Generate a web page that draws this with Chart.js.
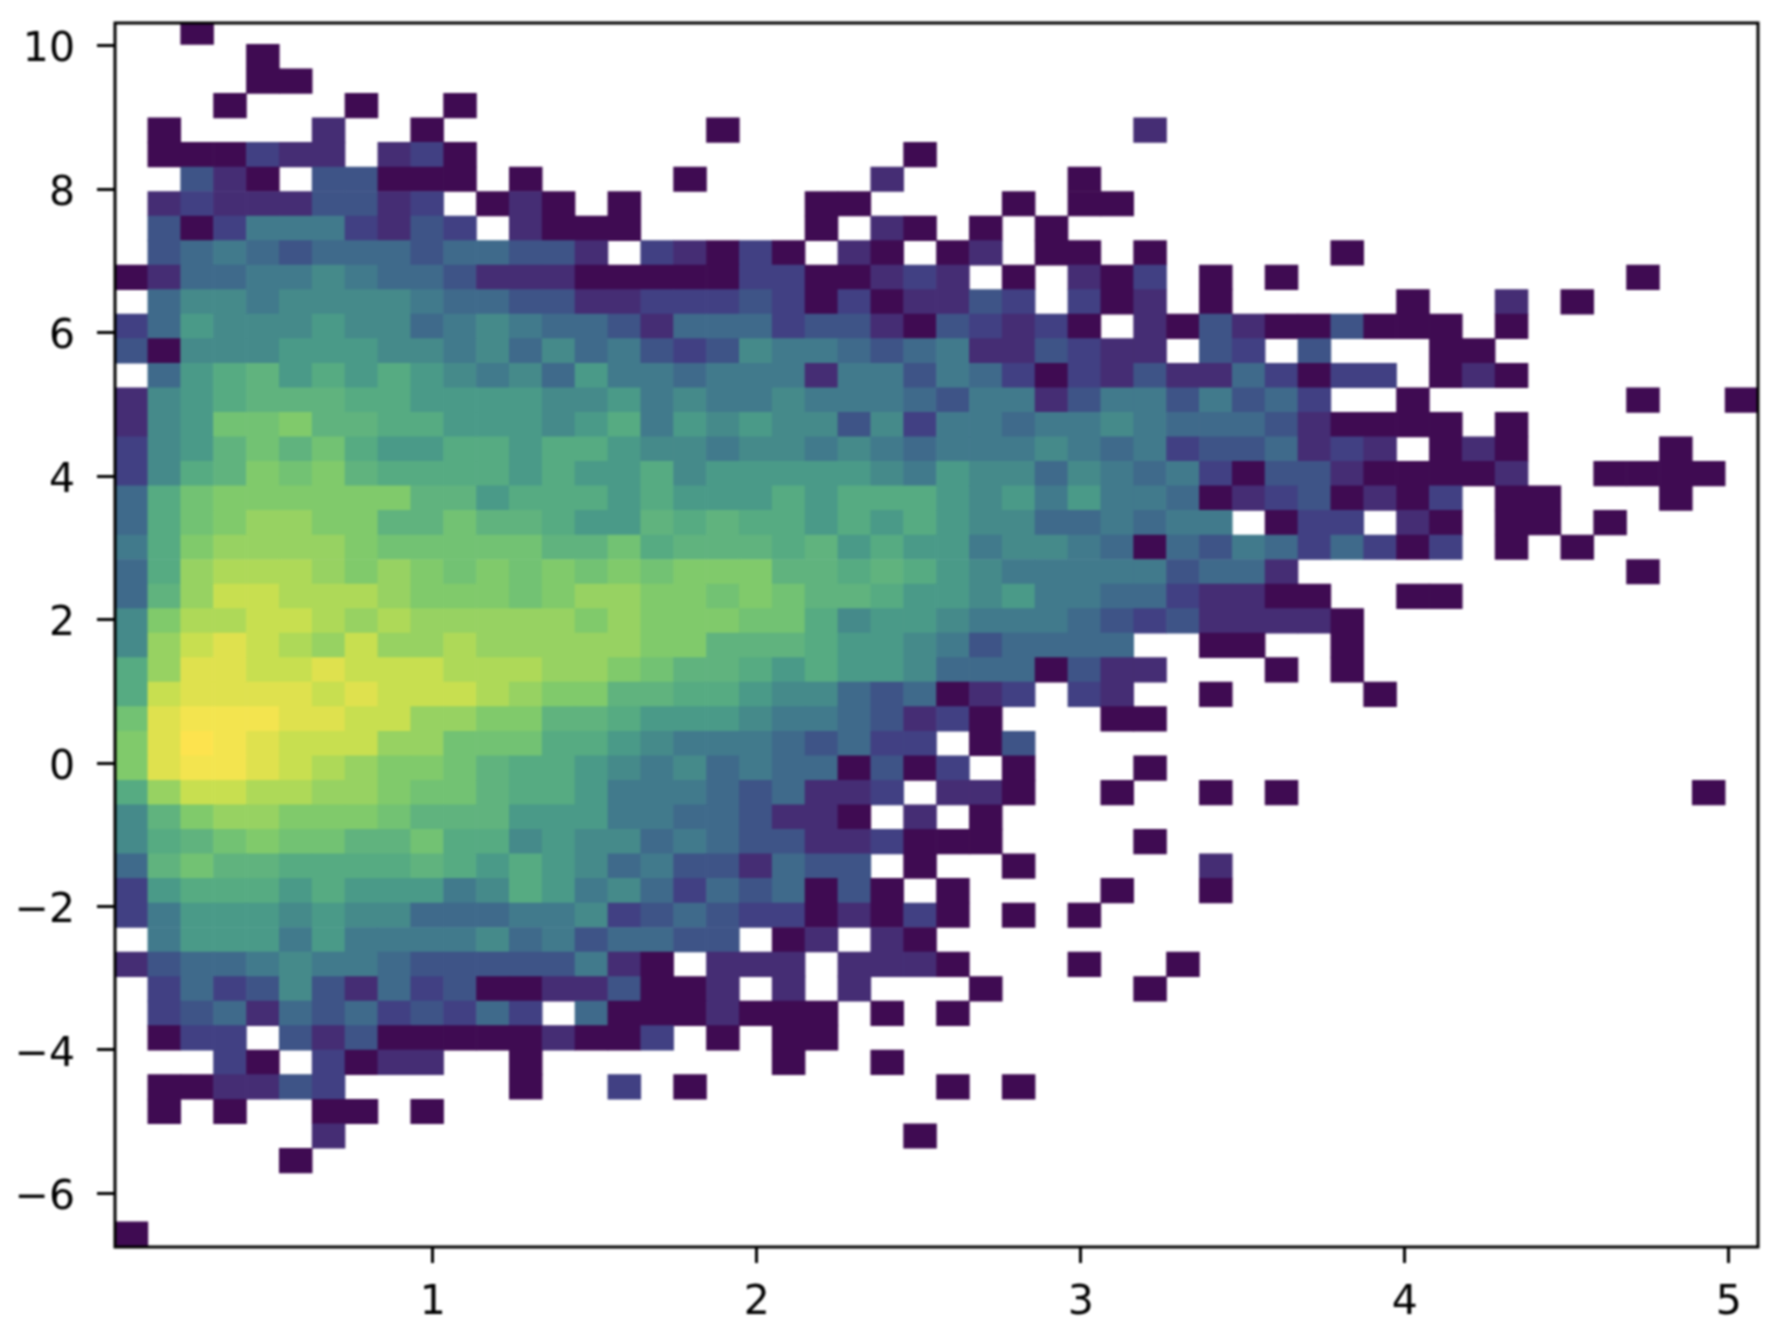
<!DOCTYPE html>
<html>
<head>
<meta charset="utf-8">
<title>hist2d</title>
<script src="https://cdn.jsdelivr.net/npm/chart.js@4/dist/chart.umd.js"></script>
<style>
  html, body { margin: 0; padding: 0; background: #fff; }
  canvas { display: block; filter: blur(0.9px); }
</style>
</head>
<body>
<canvas id="myChart" width="1778" height="1334"></canvas>
<script>
'use strict';

let xTicks = [1, 2, 3, 4, 5];
let yTicks = [-6, -4, -2, 0, 2, 4, 6, 8, 10];

// bin layout of the histogram, in data units
let xStart = 0.0194;
let xStep = 0.10142;
let yTop = 10.361;
let yStep = 0.342;

// one string per row from the top, 50 bins each.
// '.' is an empty bin, 1..9 a..i is the colour level (log of the count)
let rows = [
  '..1....... .......... .......... .......... ..........',
  '....1..... .......... .......... .......... ..........',
  '....11.... .......... .......... .......... ..........',
  '...1...1.. 1......... .......... .......... ..........',
  '.1....2..1 ........1. .......... .2........ ..........',
  '.111322.23 1......... ....1..... .......... ..........',
  '..421.4411 1.1....1.. ...2.....1 .......... ..........',
  '.232224423 .121.1.... .11....1.1 1......... ..........',
  '.413666324 3.2111.... .1.21.1.1. .......... ..........',
  '.456545554 55442.3213 1.21.12.11 .1.....1.. ..........',
  '1255667655 4222111113 311232.1.2 13.1.1.... ......1...',
  '.577677776 5544223334 31312243.3 12.1.....1 ..2.1.....',
  '3587778775 6765542555 3442143231 .214211411 1.1.......',
  '4177788877 6757564347 6654562243 22.43.4... 11........',
  '.589a89898 7675866566 6266465313 242253133. 121.......',
  '2789aaa998 8887786766 7666546624 6646453..1 ......1..1',
  '278bbcaa99 8887896878 7747366566 7655542111 1.1.......',
  '378abab988 9989987767 7676566676 563445232. 121....1..',
  '379acbca99 9989889788 8887687757 6563144211 112..1111.',
  '59bcccccca a899989888 9899987868 6651234121 3.11...1..',
  '59bcddccaa baa988a9a9 9898987755 6566.133.2 1.11.1....',
  '69cddddcbb bbbaab9aaa 9a89886776 5154653531 3.1.1.....',
  '59deeedcdc bcbcbcbccc aa9a987666 664552.... ......1...',
  '5adffeeedc ccbcddccbc baa9887866 5532211..1 1.........',
  '7ceeffeded ddddcdcccb b978876665 43422221.. ..........',
  '7dfgfedfdd edddddccaa a988764555 5..11..1.. ..........',
  '9dggffgfff eeeddcbaa9 8988755514 22...1.1.. ..........',
  '9fggggfgff fedccaa998 77545123.3 2..1....1. ..........',
  'bghhhggffd dccaa98887 6654231... 11........ ..........',
  'cgihgfffdd bbb9987666 54533.14.. .......... ..........',
  'cghhgfedcc ba99876756 551413.1.. .1........ ..........',
  '9dffeeddcb ba99866654 5223.221.. 1..1.1.... ........1.',
  '7acddcccba aa88866554 221.2.1... .......... ..........',
  '79abcbbaab 9978775654 4223111... .1........ ..........',
  '5abaa9999a 9898756442 544.1..1.. ...2...... ..........',
  '3899989888 6798675354 5141.1.... 1..1...... ..........',
  '3688878775 5566734543 312131.1.1 .......... ..........',
  '.688868666 675645544. 12.21..... .......... ..........',
  '2455676654 4444621.22 2.2221...1 ..1....... ..........',
  '.353474253 411224112. 2.2...1... .1........ ..........',
  '.345254534 353.511121 11.1.1.... .......... ..........',
  '.133.42411 1112113.1. 11........ .......... ..........',
  '...31.3122 ..1....... 1..1...... .......... ..........',
  '.112243... ..1..3.1.. .....1.1.. .......... ..........',
  '.1.1..11.1 .......... .......... .......... ..........',
  '......2... .......... ....1..... .......... ..........',
  '.....1.... .......... .......... .......... ..........',
  '.......... .......... .......... .......... ..........',
  '.......... .......... .......... .......... ..........',
  '1......... .......... .......... .......... ..........',
];

const palette = ['#ffffff',
  '#3f0b52', '#452d74', '#414083', '#3e5487', '#3f6a8b', '#417a8c',
  '#458a8a', '#4a9a88', '#56ab82', '#60b37e', '#72c273', '#80ca6b',
  '#97d262', '#aed958', '#c8df50', '#dfe14e', '#f3e44f', '#fde34e'];

function buildCells() {
  let cells = [];
  let colours = [];
  for (let r = 0; r < rows.length; r++) {
    let row = rows[r].replace(/ /g, '');
    for (let c = 0; c < row.length; c++) {
      if (row[c] === '.') {
        continue;
      }
      let top = yTop - r * yStep;
      cells.push({ x: xStart + (c + 0.5) * xStep, y: [top - yStep, top] });
      colours.push(palette[parseInt(row[c], 36)]);
    }
  }
  return { cells: cells, colours: colours };
}

function minusLabel(value) {
  return String(value).replace('-', '\u2212');
}

const frame = {
  id: 'frame',
  beforeDraw(chart) {
    // matplotlib sets the y labels a little below the tick
    chart.scales.y.getLabelItems().forEach(item => {
      item.options.translation[1] += 5;
    });
  },
  afterDatasetsDraw(chart) {
    let area = chart.chartArea;
    let ctx = chart.ctx;
    ctx.save();
    ctx.strokeStyle = '#000';
    ctx.lineWidth = 3;
    ctx.strokeRect(area.left, area.top, area.right - area.left, area.bottom - area.top);
    ctx.restore();
  },
};

const tickFont = { family: '"DejaVu Sans"', size: 41 };
const built = buildCells();

new Chart(document.getElementById('myChart').getContext('2d'), {
  type: 'bar',
  data: {
    datasets: [{
      data: built.cells,
      backgroundColor: built.colours,
      borderWidth: 0,
      barPercentage: 1,
      categoryPercentage: 1,
      grouped: false,
    }],
  },
  plugins: [frame],
  options: {
    responsive: false,
    animation: false,
    devicePixelRatio: 1,
    layout: { padding: { top: 23, right: 20, left: 0, bottom: 0 } },
    plugins: { legend: { display: false }, tooltip: { enabled: false } },
    scales: {
      x: {
        type: 'linear',
        offset: false,
        min: 0.0194,
        max: 5.0904,
        border: { display: false },
        grid: { offset: false, drawOnChartArea: false, tickLength: 16, tickWidth: 3, tickColor: '#000' },
        ticks: { color: '#000', font: tickFont, padding: 16, maxRotation: 0, callback: minusLabel },
        afterBuildTicks(scale) {
          scale.ticks = xTicks.map(v => ({ value: v }));
        },
        afterFit(scale) {
          scale.height = 87;
          scale.paddingLeft = 0;
          scale.paddingRight = 0;
        },
      },
      y: {
        min: -6.747,
        max: 10.316,
        border: { display: false },
        grid: { drawOnChartArea: false, tickLength: 18, tickWidth: 3, tickColor: '#000' },
        ticks: { color: '#000', font: tickFont, padding: 22, callback: minusLabel },
        afterBuildTicks(scale) {
          scale.ticks = yTicks.map(v => ({ value: v }));
        },
        afterFit(scale) {
          scale.width = 115;
          scale.paddingTop = 0;
          scale.paddingBottom = 0;
        },
      },
    },
  },
});
</script>
</body>
</html>
